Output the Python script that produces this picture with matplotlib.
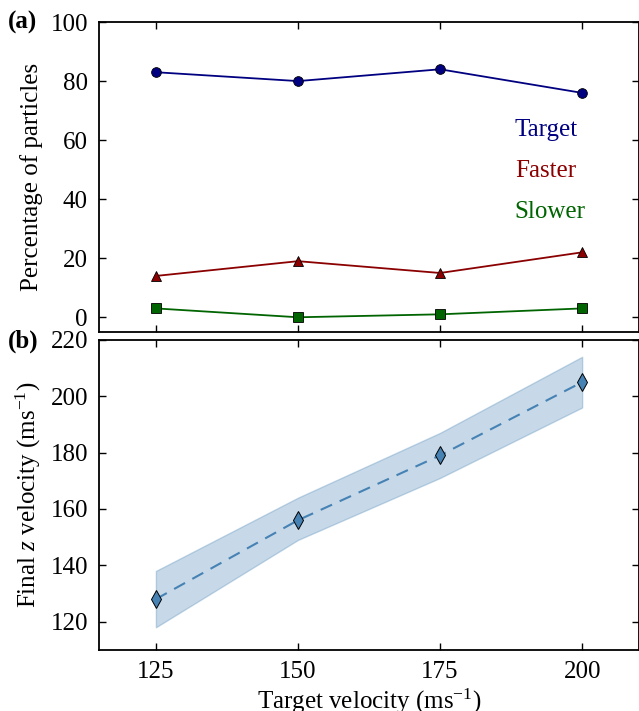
import matplotlib
matplotlib.use('Agg')
import matplotlib.pyplot as plt
import numpy as np

plt.rcParams['font.family'] = 'Liberation Serif'
plt.rcParams['mathtext.fontset'] = 'custom'
plt.rcParams['mathtext.rm'] = 'Liberation Serif'
plt.rcParams['mathtext.it'] = 'Liberation Serif:italic'
plt.rcParams['font.size'] = 18

# data
target_vel = [125, 150, 175, 200]
pct_target = [83, 80, 84, 76]
pct_faster = [14, 19, 15, 22]
pct_slower = [3, 0, 1, 3]
final_vz = [128, 156, 179, 205]
final_vz_hi = [138, 164, 187, 214]
final_vz_lo = [118, 149, 171, 196]

fig = plt.figure(figsize=(6.39, 7.11), dpi=100)
ax1 = fig.add_axes([0.155, 0.533, 0.845, 0.436])
ax2 = fig.add_axes([0.155, 0.086, 0.845, 0.436])

ax1.plot(target_vel, pct_target, '-o', color='navy', mec='black', mew=0.6, ms=7, lw=1.3, label='Target')
ax1.plot(target_vel, pct_faster, '-^', color='darkred', mec='black', mew=0.6, ms=7.5, lw=1.3, label='Faster')
ax1.plot(target_vel, pct_slower, '-s', color='darkgreen', mec='black', mew=0.6, ms=7, lw=1.3, label='Slower')
ax1.set_xlim(115, 210)
ax1.set_ylim(-5, 100)
ax1.set_yticks([0, 20, 40, 60, 80, 100])
ax1.set_xticks(target_vel)
ax1.tick_params(labelbottom=False)
ax1.set_ylabel('Percentage of particles')
ax1.yaxis.set_label_coords(-0.104, 0.5)
leg = ax1.legend(loc='upper left', bbox_to_anchor=(0.770, 0.69), frameon=False,
                 handlelength=0, handletextpad=0, labelspacing=0.75, labelcolor='linecolor',
                 borderpad=0, borderaxespad=0, fontsize=18)
for h in leg.legend_handles:
    h.set_visible(False)

ax2.fill_between(target_vel, final_vz_lo, final_vz_hi, color='steelblue', alpha=0.3, lw=1)
ax2.plot(target_vel, final_vz, '--d', color='steelblue', mec='black', mew=0.7, ms=9, lw=1.5,
         dashes=(6, 4))
ax2.set_xlim(115, 210)
ax2.set_ylim(110, 220)
ax2.set_xticks(target_vel)
ax2.set_yticks([120, 140, 160, 180, 200, 220])
ax2.set_xlabel('Target velocity (ms$^{\\mathrm{-1}}$)', labelpad=2.5)
ax2.set_ylabel('Final $z$ velocity (ms$^{\\mathrm{-1}}$)')
ax2.yaxis.set_label_coords(-0.104, 0.5)

for ax in (ax1, ax2):
    ax.tick_params(direction='in', top=True, right=True, length=5, width=1, labelsize=18, pad=8)
    for sp in ax.spines.values():
        sp.set_linewidth(1.3)

fig.text(0.012, 0.968, '(a)', fontsize=18, fontweight='bold', va='center')
fig.text(0.012, 0.520, '(b)', fontsize=18, fontweight='bold', va='center')

fig.savefig('out.png', dpi=100)
